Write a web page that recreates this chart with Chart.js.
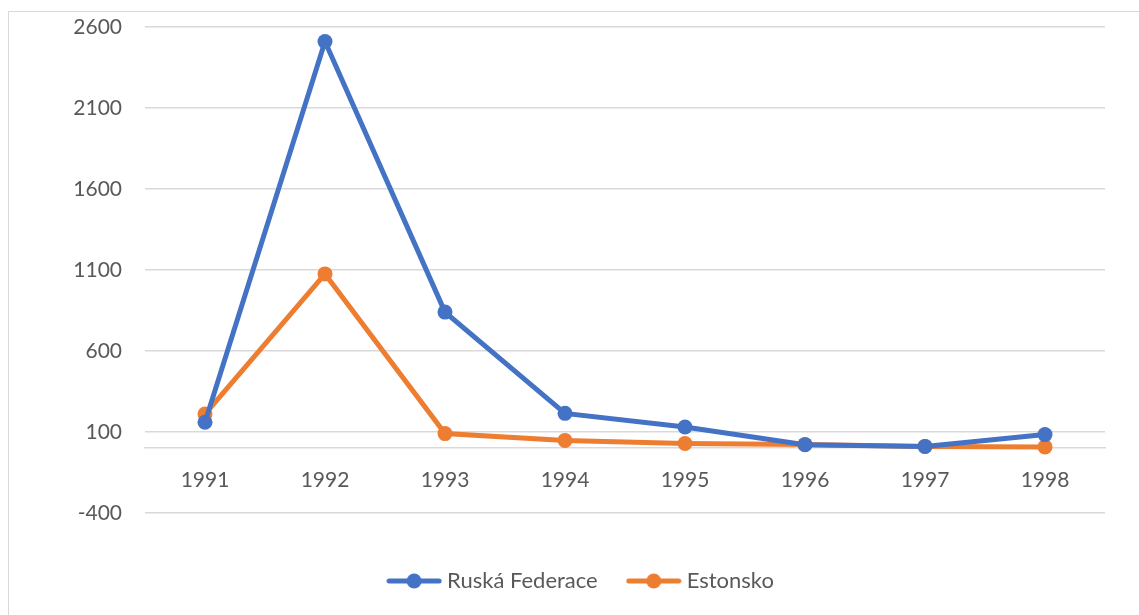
<!DOCTYPE html>
<html><head><meta charset="utf-8">
<script src="https://cdn.jsdelivr.net/npm/chart.js@4.4.0/dist/chart.umd.min.js"></script>
<style>
html,body{margin:0;padding:0;background:#fff;}
#wrap{position:relative;width:1139px;height:615px;overflow:hidden;}
#frame{position:absolute;left:8px;top:11px;width:1200px;height:700px;border:1px solid #d9d9d9;}
canvas{position:absolute;left:0;top:0;}
</style></head>
<body><div id="wrap"><div id="frame"></div><canvas id="c" width="1139" height="615"></canvas></div>
<script>
const categories = ['1991','1992','1993','1994','1995','1996','1997','1998'];
const russia = [160, 2510, 840, 215, 131, 22, 11, 84];
const estonia = [211, 1076, 90, 48, 29, 23, 11, 8];
const seriesNames = ['Ruská Federace','Estonsko'];
const yTicks = [-400, 100, 600, 1100, 1600, 2100, 2600];
const blue = '#4472C4', orange = '#ED7D31';
const textColor = '#595959', gridColor = '#d9d9d9';
const FONT = 'Lato, "Open Sans", sans-serif';

function legendIcon(color){
  const cv = document.createElement('canvas');
  cv.width = 56; cv.height = 16;
  const g = cv.getContext('2d');
  g.strokeStyle = color; g.lineWidth = 5; g.lineCap = 'round';
  g.beginPath(); g.moveTo(3, 8); g.lineTo(53, 8); g.stroke();
  g.fillStyle = color; g.beginPath(); g.arc(28, 8, 7.5, 0, Math.PI*2); g.fill();
  return cv;
}

new Chart(document.getElementById('c'), {
  type: 'line',
  data: {
    labels: categories,
    datasets: [
      {label: seriesNames[0], data: russia, borderColor: blue, backgroundColor: blue, borderWidth: 5, pointRadius: 7.5, pointBackgroundColor: blue, pointBorderWidth: 0, tension: 0, pointStyle: 'circle'},
      {label: seriesNames[1], data: estonia, borderColor: orange, backgroundColor: orange, borderWidth: 5, pointRadius: 7.5, pointBackgroundColor: orange, pointBorderWidth: 0, tension: 0, pointStyle: 'circle'}
    ]
  },
  options: {
    responsive: false,
    animation: false,
    layout: {padding: {left: 61, right: 34, top: 27, bottom: 13}},
    plugins: {
      tooltip: {enabled: false},
      legend: {
        position: 'bottom',
        title: {display: true, text: ' ', font: {size: 10}, padding: {top: 11, bottom: 0}},
        labels: {
          usePointStyle: true,
          pointStyleWidth: 44,
          boxHeight: 16,
          padding: 34,
          color: textColor,
          font: {family: FONT, size: 22},
          generateLabels(chart){
            return chart.data.datasets.map((d, i) => ({
              text: d.label, fillStyle: d.borderColor, strokeStyle: d.borderColor,
              pointStyle: legendIcon(d.borderColor), datasetIndex: i, lineWidth: 0, fontColor: textColor
            }));
          }
        }
      }
    },
    scales: {
      x: {
        position: {y: 0},
        offset: true,
        grid: {display: false, drawTicks: false, offset: true},
        border: {display: true, color: gridColor, width: 1.5},
        ticks: {color: textColor, font: {family: FONT, size: 21}, padding: 19, maxRotation: 0}
      },
      y: {
        min: -400, max: 2600,
        afterBuildTicks(scale){ scale.ticks = yTicks.map(v => ({value: v})); },
        afterFit(scale){ scale.width = 84; },
        grid: {color: gridColor, lineWidth: 1.5, drawTicks: true, tickLength: 23, tickColor: 'rgba(0,0,0,0)'},
        border: {display: false},
        ticks: {color: textColor, font: {family: FONT, size: 21}, padding: 0, callback: v => String(v)}
      }
    }
  }
});
</script></body></html>
